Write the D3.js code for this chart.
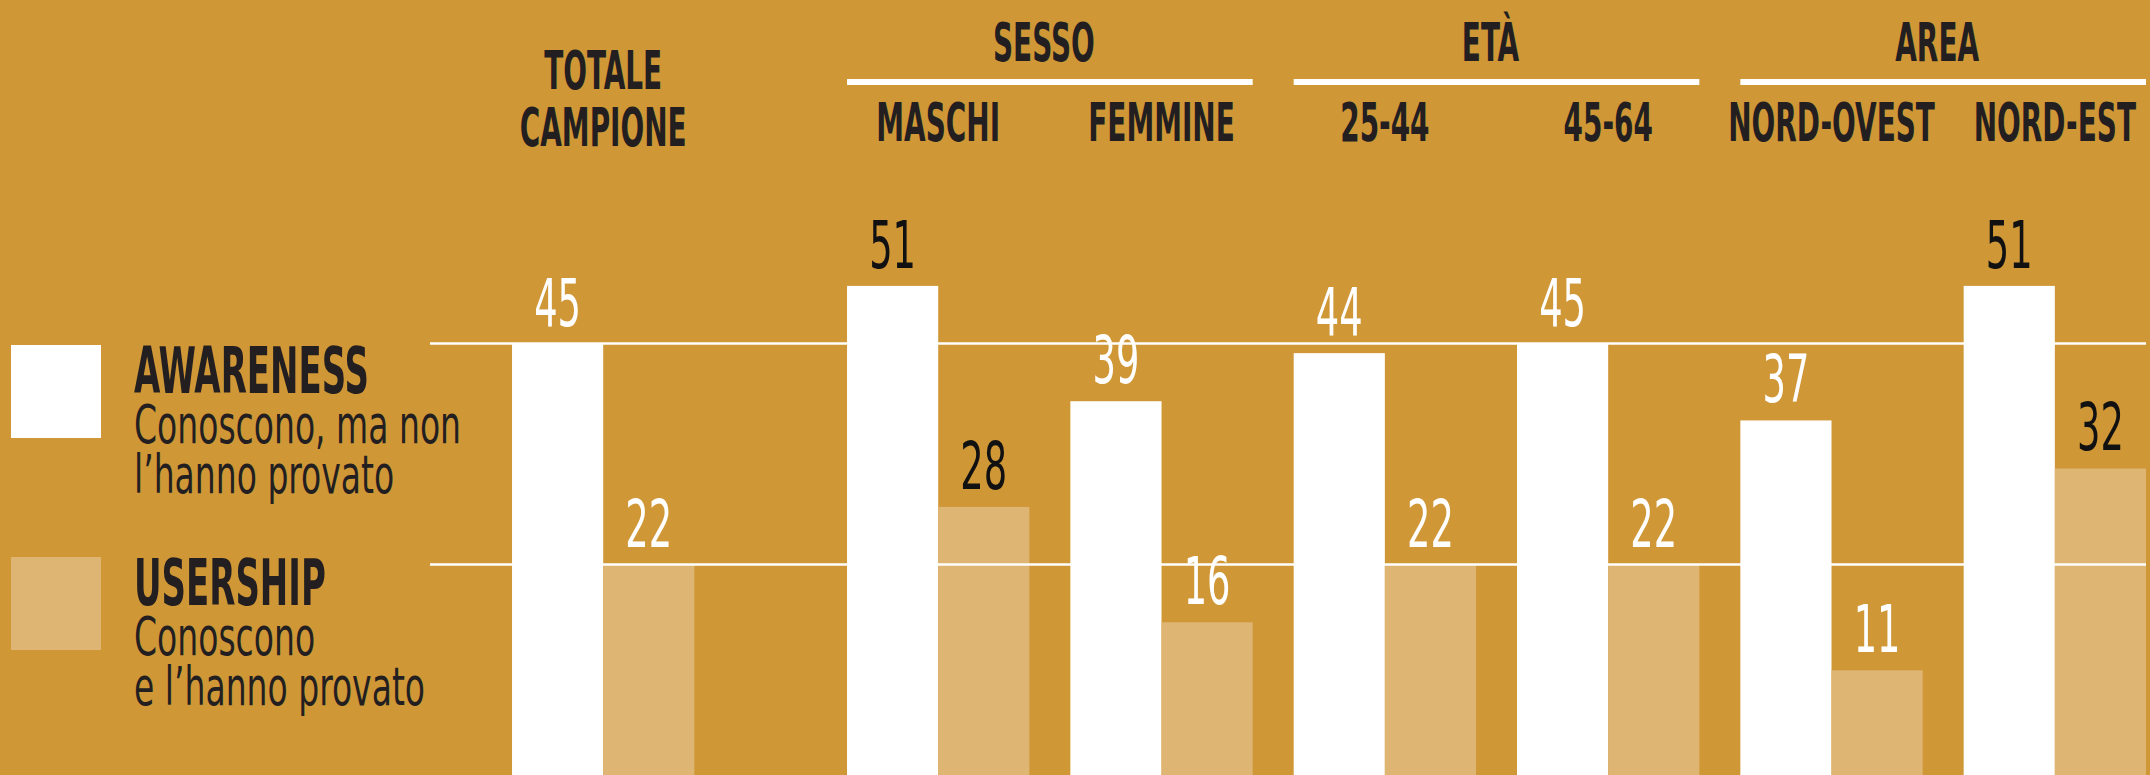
<!DOCTYPE html>
<html>
<head>
<meta charset="utf-8">
<script src="https://cdn.jsdelivr.net/npm/d3@7"></script>
<style>
  html, body { margin: 0; padding: 0; background: #d09737; overflow: hidden; }
  svg { display: block; }
  text { font-family: "DejaVu Sans Condensed", "Liberation Sans Narrow", "Liberation Sans", sans-serif; }
</style>
</head>
<body>
<svg id="chart" width="2150" height="775"></svg>
<script>
// ---- data ----
const categories = ["TOTALE CAMPIONE", "MASCHI", "FEMMINE", "25-44", "45-64", "NORD-OVEST", "NORD-EST"];
const groupNames = ["SESSO", "ETÀ", "AREA"];
const groupMembers = [["MASCHI", "FEMMINE"], ["25-44", "45-64"], ["NORD-OVEST", "NORD-EST"]];
const seriesNames = ["AWARENESS", "USERSHIP"];
const seriesDescriptions = [["Conoscono, ma non", "l\u2019hanno provato"], ["Conoscono", "e l\u2019hanno provato"]];
const awareness = [45, 51, 39, 44, 45, 37, 51];
const usership = [22, 28, 16, 22, 22, 11, 32];

// ---- styles ----
const BG = "#d09737", WHITE = "#ffffff", LIGHT = "#deb572", DARK = "#231f20";
const seriesColors = [WHITE, LIGHT];

const svg = d3.select("#chart");
svg.append("rect").attr("width", 2150).attr("height", 775).attr("fill", BG);

// ---- scales ----
const y = d3.scaleLinear().domain([0, 50]).range([776, 295.5]);
const x0 = d3.scaleBand().domain(categories).range([623.7, 2146]).paddingInner(0.1836);
const xPos = c => x0(c) - (c === categories[0] ? x0.step() / 2 : 0);
const x1 = d3.scaleBand().domain(seriesNames).range([0, x0.bandwidth()]);

function txt(g, str, x, yy, size, sx, anchor, fill, weight) {
  return g.append("text")
    .attr("transform", `translate(${x},${yy}) scale(${sx},1)`)
    .attr("text-anchor", anchor)
    .attr("font-size", size)
    .attr("font-weight", weight || "normal")
    .attr("fill", fill)
    .text(str);
}

const rows = categories.map((c, i) => ({ c, vals: [awareness[i], usership[i]] }));

// ---- bars ----
const gBars = svg.append("g");
rows.forEach(r => {
  r.vals.forEach((v, s) => {
    gBars.append("rect")
      .attr("x", xPos(r.c) + x1(seriesNames[s]))
      .attr("y", y(v))
      .attr("width", x1.bandwidth())
      .attr("height", y(0) - y(v))
      .attr("fill", seriesColors[s]);
  });
});

// ---- reference lines at total values ----
const gRef = svg.append("g");
[awareness[0], usership[0]].forEach(v => {
  gRef.append("line")
    .attr("x1", 430).attr("x2", x0(categories[categories.length - 1]) + x0.bandwidth())
    .attr("y1", y(v)).attr("y2", y(v))
    .attr("stroke", WHITE).attr("stroke-width", 2.5);
});

// ---- value labels ----
const gVal = svg.append("g");
rows.forEach((r, i) => {
  r.vals.forEach((v, s) => {
    const total = s === 0 ? awareness[0] : usership[0];
    txt(gVal, String(v), xPos(r.c) + x1(seriesNames[s]) + x1.bandwidth() / 2, y(v) - 18,
        66, 0.62, "middle", v > total ? "#111" : WHITE, "normal");
  });
});

// ---- category labels ----
const BOLD_SX = 0.575;
const gCat = svg.append("g");
categories.forEach((c, i) => {
  const cx = xPos(c) + x0.bandwidth() / 2;
  if (i === 0) {
    const parts = c.split(" ");
    txt(gCat, parts[0], cx, 89, 54, BOLD_SX, "middle", DARK, "bold");
    txt(gCat, parts[1], cx, 145.5, 54, BOLD_SX, "middle", DARK, "bold");
  } else {
    txt(gCat, c, cx, 141, 54, BOLD_SX, "middle", DARK, "bold");
  }
});

// ---- group headers ----
const gGrp = svg.append("g");
groupNames.forEach((gname, k) => {
  const mem = groupMembers[k];
  const xa = xPos(mem[0]);
  const xb = xPos(mem[mem.length - 1]) + x0.bandwidth();
  gGrp.append("rect").attr("x", xa).attr("y", 79).attr("width", xb - xa).attr("height", 6).attr("fill", WHITE);
  txt(gGrp, gname, (xa + xb) / 2 - 6, 61, 54, BOLD_SX, "middle", DARK, "bold");
});

// ---- legend ----
const gLeg = svg.append("g");
const legTop = [345, 557];
seriesNames.forEach((s, k) => {
  gLeg.append("rect").attr("x", 11).attr("y", legTop[k]).attr("width", 90).attr("height", 93)
    .attr("fill", seriesColors[k]);
  txt(gLeg, s, 134, legTop[k] + 48, 64, 0.59, "start", DARK, "bold");
  seriesDescriptions[k].forEach((line, j) => {
    txt(gLeg, line, 134, legTop[k] + 98 + j * 50, 54, 0.68, "start", DARK, "normal");
  });
});
</script>
</body>
</html>
